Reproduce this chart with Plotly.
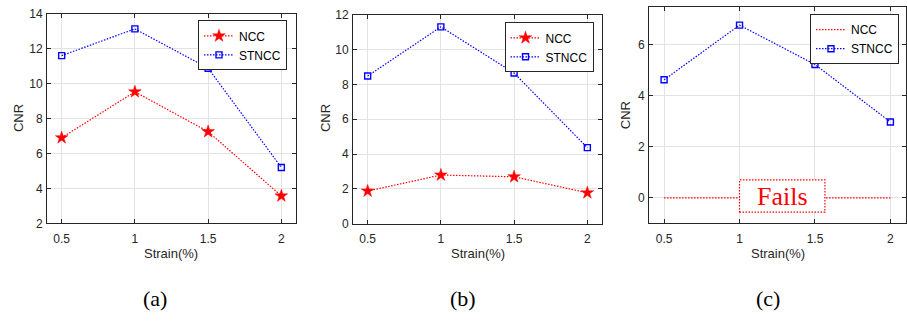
import plotly.graph_objects as go

W, H = 907, 328

# ---------------- data ----------------
strain = [0.5, 1.0, 1.5, 2.0]

ncc_a = [6.9, 9.53, 7.25, 3.57]
stncc_a = [11.6, 13.13, 10.88, 5.2]

ncc_b = [1.88, 2.8, 2.7, 1.78]
stncc_b = [8.48, 11.3, 8.65, 4.37]

ncc_c = [0.0, 0.0, 0.0, 0.0]
stncc_c = [4.62, 6.76, 5.22, 2.97]

x_ticks = [0.5, 1, 1.5, 2]
x_tick_text = ["0.5", "1", "1.5", "2"]
y_ticks_a = [2, 4, 6, 8, 10, 12, 14]
y_ticks_b = [0, 2, 4, 6, 8, 10, 12]
y_ticks_c = [0, 2, 4, 6]
panel_labels = ["(a)", "(b)", "(c)"]

# ---------------- style ----------------
RED = "#ff0000"
BLUE = "#0000ff"
AX = "#262626"
GRID = "#e3e3e3"
SANS = "Liberation Sans, Arial, sans-serif"
SERIF = "Liberation Serif, Times New Roman, serif"
DASH = "1.5px,1.5px"


def px_x(p):
    return p / W


def px_y(p):
    return 1 - p / H


panels = [
    dict(xd=[px_x(47), px_x(296)], yd=[px_y(226), px_y(7)], yr=[2, 14], yt=y_ticks_a,
         ncc=ncc_a, st=stncc_a, ncc_marker=True, leg=(287, 14), ylab_x=18, ylab_y=116,
         xlab_x=171, sub_x=155),
    dict(xd=[px_x(353), px_x(602)], yd=[px_y(226.5), px_y(8)], yr=[0, 12], yt=y_ticks_b,
         ncc=ncc_b, st=stncc_b, ncc_marker=True, leg=(593.5, 16), ylab_x=325, ylab_y=116,
         xlab_x=478, sub_x=463),
    dict(xd=[px_x(649), px_x(905.5)], yd=[px_y(226), 1.0], yr=[-1, 7.47], yt=y_ticks_c,
         ncc=ncc_c, st=stncc_c, ncc_marker=False, leg=(899, 7.5), ylab_x=625, ylab_y=113,
         xlab_x=778, sub_x=768),
]

fig = go.Figure()
annotations = []
shapes = []

for i, p in enumerate(panels):
    n = i + 1
    xa = "x" if n == 1 else f"x{n}"
    ya = "y" if n == 1 else f"y{n}"
    leg = "legend" if n == 1 else f"legend{n}"

    ncc_kwargs = dict(mode="lines+markers",
                      marker=dict(symbol="star", size=9.5, color=RED,
                                  line=dict(color=RED, width=0.5)))
    if not p["ncc_marker"]:
        ncc_kwargs = dict(mode="lines")

    fig.add_trace(go.Scatter(x=strain, y=p["ncc"], name="NCC", xaxis=xa, yaxis=ya,
                             line=dict(color=RED, width=1.2, dash=DASH),
                             legend=leg, **ncc_kwargs))
    fig.add_trace(go.Scatter(x=strain, y=p["st"], name="STNCC", xaxis=xa, yaxis=ya,
                             mode="lines+markers",
                             line=dict(color=BLUE, width=1.2, dash=DASH),
                             marker=dict(symbol="square-open", size=6, color=BLUE,
                                         line=dict(color=BLUE, width=1.4)),
                             legend=leg))

    axis_common = dict(showline=True, linecolor=AX, linewidth=1, mirror="allticks",
                       ticks="inside", ticklen=4, tickcolor=AX, tickwidth=1,
                       showgrid=True, gridcolor=GRID, gridwidth=1, zeroline=False,
                       tickfont=dict(family=SANS, size=12, color=AX))
    fig.update_layout(**{
        ("xaxis" if n == 1 else f"xaxis{n}"): dict(
            domain=p["xd"], range=[0.4, 2.1], anchor=ya, tickvals=x_ticks,
            ticktext=x_tick_text, ticklabelstandoff=4, **axis_common),
        ("yaxis" if n == 1 else f"yaxis{n}"): dict(
            domain=p["yd"], range=p["yr"], anchor=xa, tickvals=p["yt"],
            ticklabelstandoff=1, **axis_common),
        leg: dict(x=px_x(p["leg"][0]), y=px_y(p["leg"][1]), xanchor="right", yanchor="top",
                  xref="paper", yref="paper",
                  bgcolor="white", bordercolor=AX, borderwidth=1,
                  font=dict(family=SANS, size=12, color="black"),
                  tracegroupgap=0, itemwidth=30),
    })

    annotations.append(dict(text="Strain(%)", x=px_x(p["xlab_x"]), y=px_y(258),
                            xref="paper", yref="paper", showarrow=False,
                            xanchor="center", yanchor="middle",
                            font=dict(family=SANS, size=13, color=AX)))
    annotations.append(dict(text="CNR", x=px_x(p["ylab_x"]), y=px_y(p["ylab_y"]),
                            xref="paper", yref="paper", showarrow=False, textangle=-90,
                            xanchor="center", yanchor="middle",
                            font=dict(family=SANS, size=13, color=AX)))
    annotations.append(dict(text=panel_labels[i], x=px_x(p["sub_x"]), y=px_y(304),
                            xref="paper", yref="paper", showarrow=False,
                            xanchor="center", yanchor="middle",
                            font=dict(family=SERIF, size=22, color="black")))

# "Fails" box on panel (c)
shapes.append(dict(type="rect", xref="x3", yref="y3", x0=1.0, x1=1.566, y0=-0.56, y1=0.70,
                   line=dict(color=RED, width=1.2, dash=DASH), fillcolor="white",
                   layer="above"))
annotations.append(dict(text="Fails", x=1.283, y=0.07, xref="x3", yref="y3",
                        showarrow=False, xanchor="center", yanchor="middle",
                        font=dict(family=SERIF, size=26, color=RED)))

fig.update_layout(width=W, height=H, margin=dict(l=0, r=0, t=0, b=0),
                  paper_bgcolor="white", plot_bgcolor="white",
                  annotations=annotations, shapes=shapes, showlegend=True)

fig.write_html("out.html")
